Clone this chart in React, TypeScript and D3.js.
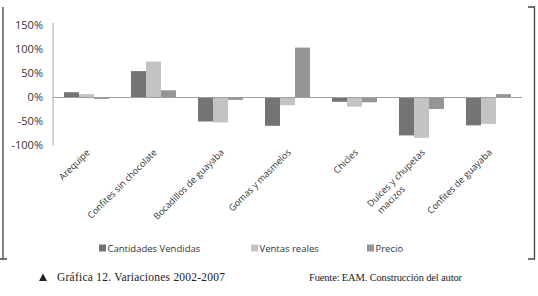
import React from "react";
import * as d3 from "d3";

const categories: string[][] = [
  ["Arequipe"],
  ["Confites sin chocolate"],
  ["Bocadillos de guayaba"],
  ["Gomas y masmelos"],
  ["Chicles"],
  ["Dulces y chupetas", "macizos"],
  ["Confites de guayaba"],
];
const seriesNames = ["Cantidades Vendidas", "Ventas reales", "Precio"];
const cantidades = [11, 55, -50, -59, -9, -79, -58];
const ventas = [7, 75, -52, -16, -19, -84, -55];
const precio = [-3, 15, -5, 104, -10, -24, 7];
const yTicks = [150, 100, 50, 0, -50, -100];
const colors = ["#747474", "#c3c3c3", "#959595"];

export default function App() {
  const W = 538, H = 296;
  const series = [cantidades, ventas, precio];
  const x = d3.scaleBand<number>().domain(d3.range(categories.length)).range([53, 522]).paddingInner(0).paddingOuter(0);
  const xi = d3.scaleBand<number>().domain([0, 1, 2]).range([0, x.bandwidth()]).paddingInner(0).paddingOuter(0.733);
  const y = d3.scaleLinear().domain([-100, 150]).range([145.5, 25.5]);
  const sans = "'Open Sans', sans-serif";
  const serif = "'Liberation Serif', serif";
  const legendX = [99, 251, 367];
  return (
    <svg width={W} height={H} style={{ position: "absolute", left: 0, top: 0, background: "#fff" }}>
      {/* brackets */}
      <path d="M3,7 V259 M0,259 H7" stroke="#444" strokeWidth={1.3} fill="none" />
      <path d="M528,7 H534.5 V259 H528" stroke="#444" strokeWidth={1.3} fill="none" />
      {/* y axis */}
      <line x1={53} x2={53} y1={y(150) - 2.5} y2={y(-100)} stroke="#a8a8a8" strokeWidth={1} />
      {yTicks.map((t) => (
        <text key={t} x={43} y={y(t)} dy="0.35em" textAnchor="end" fontFamily={sans} fontSize={11} fill="#333">
          {t}%
        </text>
      ))}
      {/* bars */}
      {categories.map((c, i) =>
        series.map((s, j) => {
          const v = s[i];
          const x0 = (x(i) as number) + (xi(j) as number);
          return (
            <rect key={`${i}-${j}`} x={x0} width={xi.bandwidth()} y={Math.min(y(v), y(0))} height={Math.abs(y(v) - y(0))} fill={colors[j]} />
          );
        })
      )}
      {/* zero line */}
      <line x1={53} x2={522} y1={y(0)} y2={y(0)} stroke="#a0a0a0" strokeWidth={1} />
      {/* x labels */}
      {categories.map((c, i) => {
        const cx = (x(i) as number) + x.bandwidth() / 2 + 4;
        return (
          <g key={i} transform={`translate(${cx},153) rotate(-45)`}>
            {c.map((line, k) => (
              <text key={k} x={k === 0 ? 0 : -40} y={k * 12} textAnchor="end" fontFamily={sans} fontSize={9.2} fill="#333">
                {line}
              </text>
            ))}
          </g>
        );
      })}
      {/* legend */}
      {seriesNames.map((n, j) => (
        <g key={n}>
          <rect x={legendX[j]} y={244.5} width={7} height={7} fill={colors[j]} />
          <text x={legendX[j] + 8.5} y={251.5} fontFamily={sans} fontSize={9.5} fill="#333">
            {n}
          </text>
        </g>
      ))}
      {/* caption */}
      <path d="M39,281 L43,273.5 L47,281 Z" fill="#222" />
      <text x={57} y={281} fontFamily={serif} fontSize={11.5} fill="#222" textLength={168} lengthAdjust="spacing">
        Gráfica 12. Variaciones 2002-2007
      </text>
      <text x={309} y={281} fontFamily={serif} fontSize={10.5} fill="#222" textLength={153} lengthAdjust="spacing">
        Fuente: EAM. Construcción del autor
      </text>
    </svg>
  );
}
